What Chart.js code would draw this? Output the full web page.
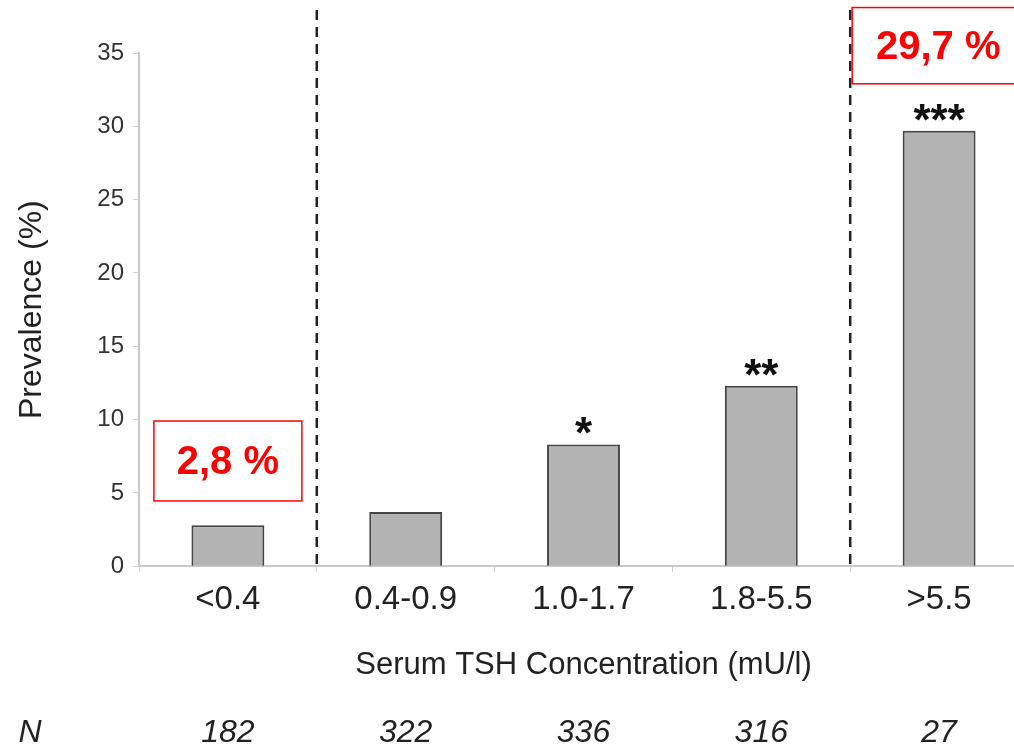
<!DOCTYPE html>
<html>
<head>
<meta charset="utf-8">
<script src="https://cdn.jsdelivr.net/npm/chart.js@4/dist/chart.umd.min.js"></script>
<style>
    html, body { margin: 0; padding: 0; background: #fff; overflow: hidden; }
    #wrap { width: 1028px; height: 748px; }
</style>
</head>
<body>
<div id="wrap"><canvas id="chart" width="1028" height="748"></canvas></div>
<script>
// TSH categories and prevalence values
const categories = ['<0.4', '0.4-0.9', '1.0-1.7', '1.8-5.5', '>5.5'];
const prevalence = [2.8, 3.7, 8.3, 12.3, 29.7];
const stars = ['', '', '*', '**', '***'];
const nValues = ['182', '322', '336', '316', '27'];
const yTicks = [0, 5, 10, 15, 20, 25, 30, 35];

const FONT = '"Liberation Sans", Arial, Helvetica, sans-serif';
const N_PAD = 29;

// dashed separators + stars + red callout boxes
const extrasPlugin = {
    id: 'extras',
    afterDatasetsDraw(chart) {
        const ctx = chart.ctx;
        const x = chart.scales.x;
        const y = chart.scales.y;
        const meta = chart.getDatasetMeta(0);

        // dashed separators between groups
        ctx.save();
        ctx.strokeStyle = '#222';
        ctx.lineWidth = 2.5;
        ctx.setLineDash([10, 7]);
        [0.5, 3.5].forEach(v => {
            const px = x.getPixelForValue(v);
            ctx.beginPath();
            ctx.moveTo(px, 10);
            ctx.lineTo(px, y.getPixelForValue(0));
            ctx.stroke();
        });
        ctx.restore();

        // significance stars
        ctx.save();
        ctx.fillStyle = '#111';
        ctx.font = 'bold 44px ' + FONT;
        ctx.textAlign = 'center';
        ctx.textBaseline = 'alphabetic';
        meta.data.forEach((bar, i) => {
            if (stars[i]) ctx.fillText(stars[i], bar.x, bar.y + 4);
        });
        ctx.restore();

        // red callouts
        ctx.save();
        ctx.strokeStyle = '#ff0000';
        ctx.lineWidth = 1.5;
        ctx.fillStyle = '#ff0000';
        ctx.font = 'bold 40px ' + FONT;
        ctx.textAlign = 'center';
        ctx.textBaseline = 'middle';
        const boxes = [
            { idx: 0, text: '2,8 %', top: 9.9, bottom: 4.45, w: 148 },
            { idx: 4, text: '29,7 %', top: 38.1, bottom: 32.9, w: 180 }
        ];
        boxes.forEach(b => {
            const cx = meta.data[b.idx].x;
            const y1 = y.getPixelForValue(b.top);
            const y2 = y.getPixelForValue(b.bottom);
            let left = cx - b.w / 2;
            if (b.idx === 4) left = x.getPixelForValue(3.5) + 2;
            ctx.strokeRect(left, y1, b.w, y2 - y1);
            const tx = b.idx === 4 ? left + 86 : cx;
            ctx.fillText(b.text, tx, (y1 + y2) / 2 + 2);
        });
        ctx.restore();

        // "N" row label
        const x2 = chart.scales.x2;
        ctx.save();
        ctx.fillStyle = '#222';
        ctx.font = 'italic 32px ' + FONT;
        ctx.textAlign = 'center';
        ctx.textBaseline = 'middle';
        ctx.fillText('N', 30, x2.top + N_PAD + 16);
        ctx.restore();
    }
};

new Chart(document.getElementById('chart'), {
    type: 'bar',
    data: {
        labels: categories,
        datasets: [{
            data: prevalence,
            backgroundColor: '#b3b3b3',
            borderColor: '#444',
            borderWidth: 2,
            categoryPercentage: 1,
            barPercentage: 0.41
        }]
    },
    options: {
        responsive: false,
        animation: false,
        layout: { padding: { top: 53, right: 0, bottom: 1, left: 0 } },
        plugins: {
            legend: { display: false },
            tooltip: { enabled: false }
        },
        scales: {
            x: {
                position: 'bottom',
                grid: { drawOnChartArea: false, color: '#d0d0d0', tickLength: 6 },
                border: { color: '#c8c8c8', width: 2 },
                ticks: { color: '#222', font: { family: FONT, size: 33 }, padding: 8 },
                title: {
                    display: true,
                    text: 'Serum TSH Concentration (mU/l)',
                    color: '#222',
                    font: { family: FONT, size: 31 },
                    padding: { top: 19, bottom: 4 }
                }
            },
            x2: {
                type: 'category',
                position: 'bottom',
                labels: nValues,
                offset: true,
                afterFit(scale) { scale.height = 59; },
                grid: { display: false, drawTicks: false },
                border: { display: false },
                ticks: { color: '#222', font: { family: FONT, size: 32, style: 'italic', lineHeight: 1 }, padding: N_PAD }
            },
            y: {
                min: 0,
                max: 35,
                afterBuildTicks(scale) {
                    scale.ticks = yTicks.map(v => ({ value: v }));
                },
                afterFit(scale) { scale.width = 139; },
                grid: { drawOnChartArea: false, color: '#d0d0d0', tickLength: 6 },
                border: { color: '#c8c8c8', width: 2 },
                ticks: { color: '#333', font: { family: FONT, size: 24 }, padding: 9 },
                title: {
                    display: true,
                    text: 'Prevalence (%)',
                    color: '#222',
                    font: { family: FONT, size: 32 },
                    padding: { top: 13, bottom: 4 }
                }
            }
        }
    },
    plugins: [extrasPlugin]
});
</script>
</body>
</html>
